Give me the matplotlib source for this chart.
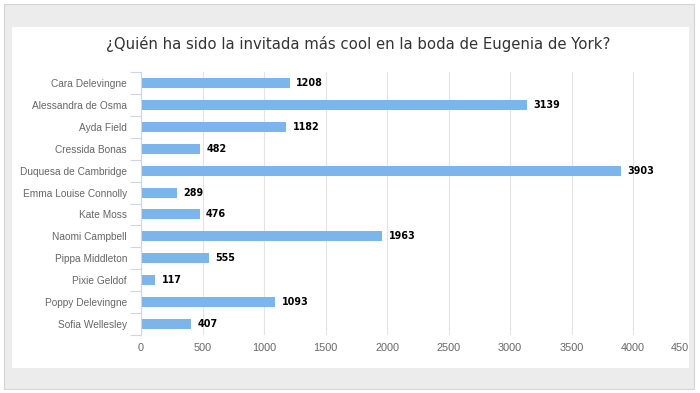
import matplotlib
matplotlib.use("Agg")
import matplotlib.pyplot as plt
from matplotlib.patches import Rectangle
from matplotlib.transforms import ScaledTranslation

categories = ["Cara Delevingne", "Alessandra de Osma", "Ayda Field", "Cressida Bonas",
              "Duquesa de Cambridge", "Emma Louise Connolly", "Kate Moss", "Naomi Campbell",
              "Pippa Middleton", "Pixie Geldof", "Poppy Delevingne", "Sofia Wellesley"]
values = [1208, 3139, 1182, 482, 3903, 289, 476, 1963, 555, 117, 1093, 407]
xticks = [0, 500, 1000, 1500, 2000, 2500, 3000, 3500, 4000, 4500]
xticklabels = ["0", "500", "1000", "1500", "2000", "2500", "3000", "3500", "4000", "450"]
title = "¿Quién ha sido la invitada más cool en la boda de Eugenia de York?"

W, H = 700, 393
fig = plt.figure(figsize=(7, 3.93), dpi=100)
fig.patch.set_facecolor("white")

def fx(px): return px / W
def fy(py): return 1 - py / H

# outer gray frame
fig.patches.append(Rectangle((fx(4), fy(389)), fx(690), 385 / H, transform=fig.transFigure,
                             facecolor="#ececec", edgecolor="#d4d4d4", lw=0.8, zorder=-2))
# white panel
fig.patches.append(Rectangle((fx(12), fy(368)), fx(677), 341 / H, transform=fig.transFigure,
                             facecolor="white", edgecolor="none", zorder=-1))

left, right, top, bottom = 141, 694.5, 72, 335
ax = fig.add_axes([fx(left), fy(bottom), fx(right - left), (bottom - top) / H])
ax.set_facecolor("none")
ax.set_zorder(1)

y = list(range(len(categories)))
ax.barh(y, values, height=0.46, color="#7cb5ec", zorder=2)
for yi, v in zip(y, values):
    ax.annotate(f"{v}", (v, yi), xytext=(4.5, 0), textcoords="offset points",
                va="center", ha="left", fontsize=6.9, fontweight="bold", color="black", zorder=3)

ax.set_ylim(len(categories) - 0.5, -0.5)
ax.set_xlim(0, 4500)
ax.set_yticks(y)
ax.set_yticklabels(categories, fontsize=7.3, color="#666666", family="Liberation Sans")
ax.set_yticks([i - 0.5 for i in range(len(categories) + 1)], minor=True)
ax.tick_params(axis="y", which="major", length=0, pad=10)
ax.tick_params(axis="y", which="minor", length=8, color="#ccd6eb", width=0.8)
ax.set_xticks(xticks)
ax.set_xticklabels(xticklabels, fontsize=7.8, color="#666666", family="Liberation Sans")
ax.tick_params(axis="x", length=0, pad=6)
ax.grid(axis="x", color="#e3e3e3", lw=0.8, zorder=1)
ax.get_xgridlines()[-1].set_visible(False)
for s in ["top", "right", "bottom"]:
    ax.spines[s].set_visible(False)
ax.spines["left"].set_color("#ccd6eb")
ax.spines["left"].set_linewidth(0.8)

# last label is pushed inside the panel and cut at its edge, as in the reference
last = ax.get_xticklabels()[-1]
last.set_horizontalalignment("left")
last.set_transform(last.get_transform() + ScaledTranslation(-23.5 / 100, 0, fig.dpi_scale_trans))

fig.text(fx(358), fy(44), title, ha="center", va="center", fontsize=10.7, color="#333333")

fig.savefig("out.png", dpi=100, facecolor=fig.get_facecolor())
